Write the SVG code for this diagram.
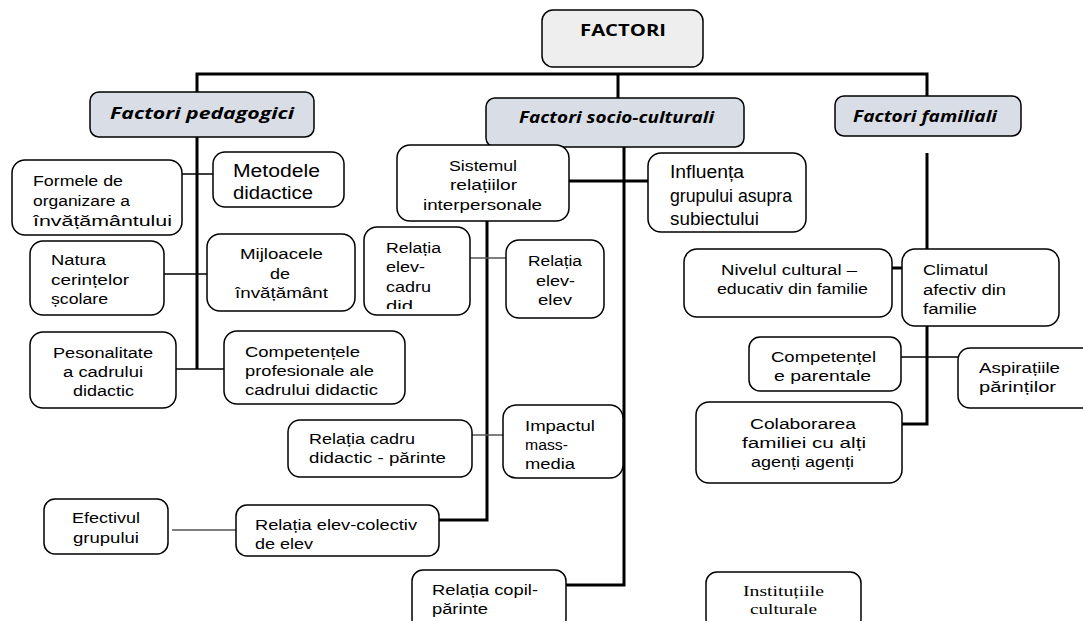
<svg xmlns="http://www.w3.org/2000/svg" width="1083" height="621" viewBox="0 0 1083 621">
<defs>
<style>
.box{fill:#fff;stroke:#000;stroke-width:1.5}
.cat{fill:#d9dde6;stroke:#000;stroke-width:1.5}
.top{fill:#eeeeee;stroke:#000;stroke-width:1.5}
text{dominant-baseline:central;fill:#000}
.t{font-family:"Liberation Sans","Open Sans",sans-serif;font-size:15.5px}
.tl{font-family:"Liberation Sans","Open Sans",sans-serif;font-size:17.5px}
.ct{font-family:"Open Sans","Liberation Sans",sans-serif;font-size:16px;font-weight:bold;font-style:italic}
.tb{font-family:"Open Sans","Liberation Sans",sans-serif;font-size:16px;font-weight:bold}
.serif{font-family:"Liberation Serif",serif;font-size:15px}
.thick{fill:none;stroke:#000;stroke-width:3}
.thin{fill:none;stroke:#000;stroke-width:1.5}
.gray{fill:none;stroke:#555;stroke-width:1.5}
</style>
<clipPath id="clipCadru"><rect x="364" y="227" width="106" height="82"/></clipPath>
<clipPath id="clipColab"><rect x="696" y="402" width="206" height="74"/></clipPath>
</defs>

<g id="connectors">
<polyline class="thick" points="197,369 197,74 927,74 927,96"/>
<line class="thick" x1="618" y1="74" x2="618" y2="98"/>
<polyline class="thick" points="624,147 624,585 550,585"/>
<line class="thick" x1="569" y1="181" x2="648" y2="181"/>
<polyline class="thick" points="487,221 487,520 439,520"/>
<line class="thick" x1="927" y1="153" x2="927" y2="249"/>
<polyline class="thick" points="927,326 927,424 902,424"/>
<line class="thick" x1="892" y1="268" x2="902" y2="268"/>
<line class="thin" x1="182" y1="174" x2="213" y2="174"/>
<line class="thin" x1="164" y1="274" x2="207" y2="274"/>
<line class="thin" x1="176" y1="369" x2="224" y2="369"/>
<line class="gray" x1="470" y1="258" x2="506" y2="258"/>
<line class="gray" x1="472" y1="435" x2="503" y2="435"/>
<line class="gray" x1="172" y1="530" x2="236" y2="530"/>
<line class="thin" x1="901" y1="357" x2="958" y2="357"/>
</g>

<g id="factori">
<rect class="top" x="542" y="10" width="161" height="57" rx="11"/>
<text class="tb" x="580" y="30" textLength="86" lengthAdjust="spacingAndGlyphs">FACTORI</text>
</g>

<g id="pedagogici">
<rect class="cat" x="90" y="92" width="224" height="45" rx="9"/>
<text class="ct" x="110" y="113" textLength="184" lengthAdjust="spacingAndGlyphs">Factori pedagogici</text>
</g>

<g id="socio">
<rect class="cat" x="486" y="98" width="258" height="49" rx="9"/>
<text class="ct" x="519" y="117" textLength="195" lengthAdjust="spacingAndGlyphs">Factori socio-culturali</text>
</g>

<g id="familiali">
<rect class="cat" x="835" y="96" width="186" height="40" rx="9"/>
<text class="ct" x="853" y="116" textLength="144" lengthAdjust="spacingAndGlyphs">Factori familiali</text>
</g>

<g id="formele">
<rect class="box" x="12" y="160" width="170" height="75" rx="13"/>
<text class="t" x="33" y="180" textLength="90" lengthAdjust="spacingAndGlyphs">Formele de</text>
<text class="t" x="33" y="200" textLength="97" lengthAdjust="spacingAndGlyphs">organizare a</text>
<text class="t" x="33" y="220" textLength="139" lengthAdjust="spacingAndGlyphs">învățământului</text>
</g>

<g id="metodele">
<rect class="box" x="213" y="152" width="131" height="55" rx="12"/>
<text class="tl" x="233" y="171" textLength="87" lengthAdjust="spacingAndGlyphs">Metodele</text>
<text class="tl" x="233" y="193" textLength="80" lengthAdjust="spacingAndGlyphs">didactice</text>
</g>

<g id="natura">
<rect class="box" x="30" y="241" width="134" height="74" rx="13"/>
<text class="t" x="51" y="259" textLength="55" lengthAdjust="spacingAndGlyphs">Natura</text>
<text class="t" x="51" y="279" textLength="78" lengthAdjust="spacingAndGlyphs">cerințelor</text>
<text class="t" x="51" y="298" textLength="57" lengthAdjust="spacingAndGlyphs">școlare</text>
</g>

<g id="mijloacele">
<rect class="box" x="207" y="234" width="148" height="77" rx="13"/>
<text class="t" x="240" y="253" textLength="83" lengthAdjust="spacingAndGlyphs">Mijloacele</text>
<text class="t" x="270" y="273" textLength="20" lengthAdjust="spacingAndGlyphs">de</text>
<text class="t" x="235" y="292" textLength="93" lengthAdjust="spacingAndGlyphs">învățământ</text>
</g>

<g id="pesonalitate">
<rect class="box" x="30" y="332" width="146" height="76" rx="13"/>
<text class="t" x="53" y="352" textLength="100" lengthAdjust="spacingAndGlyphs">Pesonalitate</text>
<text class="t" x="63" y="371" textLength="80" lengthAdjust="spacingAndGlyphs">a cadrului</text>
<text class="t" x="73" y="390" textLength="61" lengthAdjust="spacingAndGlyphs">didactic</text>
</g>

<g id="competentele">
<rect class="box" x="224" y="331" width="181" height="73" rx="13"/>
<text class="t" x="245" y="351" textLength="115" lengthAdjust="spacingAndGlyphs">Competențele</text>
<text class="t" x="245" y="370" textLength="129" lengthAdjust="spacingAndGlyphs">profesionale ale</text>
<text class="t" x="245" y="389" textLength="133" lengthAdjust="spacingAndGlyphs">cadrului didactic</text>
</g>

<g id="sistemul">
<rect class="box" x="397" y="145" width="172" height="76" rx="13"/>
<text class="t" x="449" y="165" textLength="68" lengthAdjust="spacingAndGlyphs">Sistemul</text>
<text class="t" x="450" y="184" textLength="67" lengthAdjust="spacingAndGlyphs">relațiilor</text>
<text class="t" x="423" y="204" textLength="119" lengthAdjust="spacingAndGlyphs">interpersonale</text>
</g>

<g id="influenta">
<rect class="box" x="648" y="153" width="158" height="79" rx="13"/>
<text class="tl" x="670" y="172" textLength="74" lengthAdjust="spacingAndGlyphs">Influența</text>
<text class="tl" x="670" y="196" textLength="122" lengthAdjust="spacingAndGlyphs">grupului asupra</text>
<text class="tl" x="670" y="219" textLength="89" lengthAdjust="spacingAndGlyphs">subiectului</text>
</g>

<g id="elevcadru">
<rect class="box" x="364" y="227" width="106" height="88" rx="13"/>
<g clip-path="url(#clipCadru)">
<text class="t" x="386" y="247" textLength="55" lengthAdjust="spacingAndGlyphs">Relația</text>
<text class="t" x="386" y="266" textLength="39" lengthAdjust="spacingAndGlyphs">elev-</text>
<text class="t" x="386" y="286" textLength="45" lengthAdjust="spacingAndGlyphs">cadru</text>
<text class="t" x="386" y="305" textLength="27" lengthAdjust="spacingAndGlyphs">did</text>
</g>
</g>

<g id="elevelev">
<rect class="box" x="506" y="240" width="98" height="78" rx="13"/>
<text class="t" x="528" y="260" textLength="54" lengthAdjust="spacingAndGlyphs">Relația</text>
<text class="t" x="536" y="280" textLength="39" lengthAdjust="spacingAndGlyphs">elev-</text>
<text class="t" x="538" y="299" textLength="34" lengthAdjust="spacingAndGlyphs">elev</text>
</g>

<g id="cadruparinte">
<rect class="box" x="288" y="420" width="184" height="57" rx="12"/>
<text class="t" x="309" y="438" textLength="106" lengthAdjust="spacingAndGlyphs">Relația cadru</text>
<text class="t" x="309" y="457" textLength="137" lengthAdjust="spacingAndGlyphs">didactic - părinte</text>
</g>

<g id="impactul">
<rect class="box" x="503" y="405" width="120" height="73" rx="13"/>
<text class="t" x="525" y="425" textLength="70" lengthAdjust="spacingAndGlyphs">Impactul</text>
<text class="t" x="525" y="444" textLength="43" lengthAdjust="spacingAndGlyphs">mass-</text>
<text class="t" x="525" y="463" textLength="50" lengthAdjust="spacingAndGlyphs">media</text>
</g>

<g id="efectivul">
<rect class="box" x="44" y="499" width="124" height="55" rx="11"/>
<text class="t" x="72" y="517" textLength="68" lengthAdjust="spacingAndGlyphs">Efectivul</text>
<text class="t" x="73" y="537" textLength="66" lengthAdjust="spacingAndGlyphs">grupului</text>
</g>

<g id="elevcolectiv">
<rect class="box" x="236" y="505" width="203" height="51" rx="11"/>
<text class="t" x="255" y="524" textLength="162" lengthAdjust="spacingAndGlyphs">Relația elev-colectiv</text>
<text class="t" x="255" y="543" textLength="58" lengthAdjust="spacingAndGlyphs">de elev</text>
</g>

<g id="copilparinte">
<rect class="box" x="412" y="570" width="154" height="60" rx="11"/>
<text class="t" x="432" y="589" textLength="106" lengthAdjust="spacingAndGlyphs">Relația copil-</text>
<text class="t" x="432" y="608" textLength="56" lengthAdjust="spacingAndGlyphs">părinte</text>
</g>

<g id="nivelul">
<rect class="box" x="684" y="249" width="208" height="68" rx="13"/>
<text class="t" x="721" y="269" textLength="136" lengthAdjust="spacingAndGlyphs">Nivelul cultural –</text>
<text class="t" x="717" y="288" textLength="151" lengthAdjust="spacingAndGlyphs">educativ din familie</text>
</g>

<g id="climatul">
<rect class="box" x="902" y="249" width="157" height="77" rx="13"/>
<text class="t" x="923" y="269" textLength="65" lengthAdjust="spacingAndGlyphs">Climatul</text>
<text class="t" x="923" y="289" textLength="83" lengthAdjust="spacingAndGlyphs">afectiv din</text>
<text class="t" x="923" y="308" textLength="54" lengthAdjust="spacingAndGlyphs">familie</text>
</g>

<g id="competentelparentale">
<rect class="box" x="749" y="337" width="152" height="54" rx="11"/>
<text class="t" x="771" y="356" textLength="105" lengthAdjust="spacingAndGlyphs">Competențel</text>
<text class="t" x="774" y="375" textLength="97" lengthAdjust="spacingAndGlyphs">e parentale</text>
</g>

<g id="aspiratiile">
<rect class="box" x="958" y="348" width="140" height="60" rx="12"/>
<text class="t" x="979" y="367" textLength="81" lengthAdjust="spacingAndGlyphs">Aspirațiile</text>
<text class="t" x="979" y="386" textLength="77" lengthAdjust="spacingAndGlyphs">părinților</text>
</g>

<g id="colaborarea">
<rect class="box" x="696" y="402" width="206" height="81" rx="13"/>
<g clip-path="url(#clipColab)">
<text class="t" x="750" y="423" textLength="106" lengthAdjust="spacingAndGlyphs">Colaborarea</text>
<text class="t" x="742" y="442" textLength="124" lengthAdjust="spacingAndGlyphs">familiei cu alți</text>
<text class="t" x="751" y="461" textLength="103" lengthAdjust="spacingAndGlyphs">agenți agenți</text>
</g>
</g>

<g id="institutiile">
<rect class="box" x="706" y="572" width="155" height="58" rx="11"/>
<text class="serif" x="743" y="591" textLength="81" lengthAdjust="spacingAndGlyphs">Instituțiile</text>
<text class="serif" x="750" y="609" textLength="67" lengthAdjust="spacingAndGlyphs">culturale</text>
</g>
</svg>
